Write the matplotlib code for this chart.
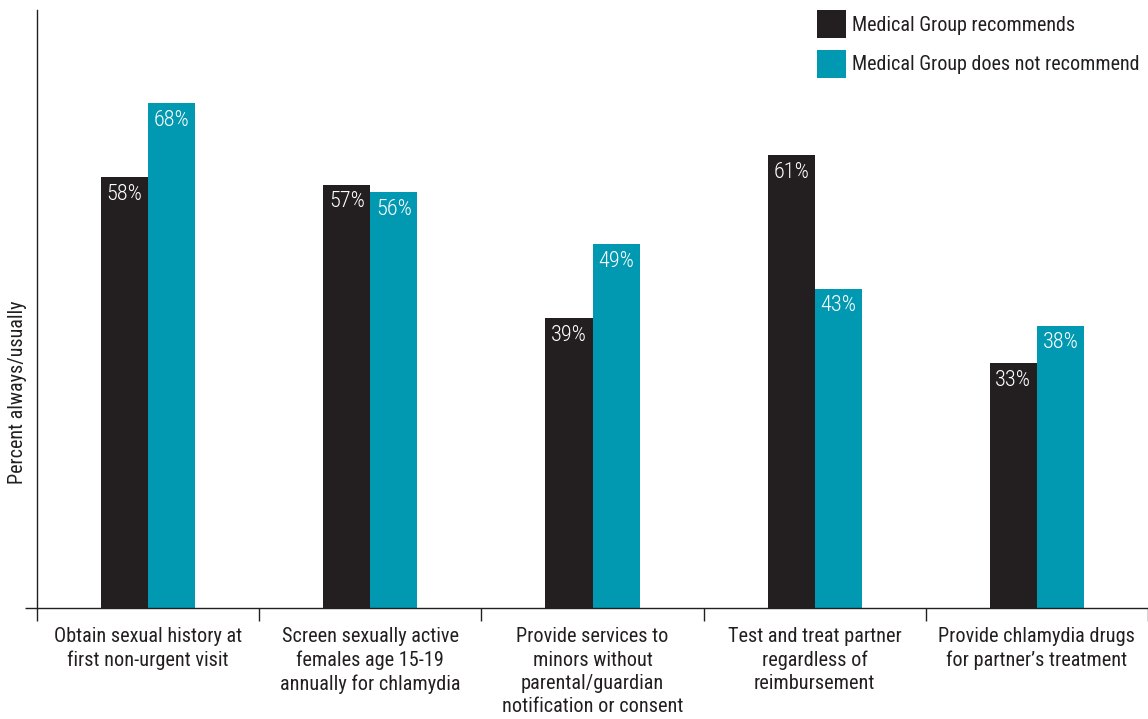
import matplotlib
matplotlib.use("Agg")
import matplotlib.pyplot as plt
from matplotlib import font_manager as fm
import numpy as np

installed = {f.name for f in fm.fontManager.ttflist}
for fam in ["Roboto Condensed", "Archivo Narrow", "PT Sans Narrow", "Liberation Sans Narrow", "DejaVu Sans"]:
    if fam in installed:
        plt.rcParams["font.family"] = [fam, "DejaVu Sans"]
        break

categories = [
    "Obtain sexual history at\nfirst non-urgent visit",
    "Screen sexually active\nfemales age 15-19\nannually for chlamydia",
    "Provide services to\nminors without\nparental/guardian\nnotification or consent",
    "Test and treat partner\nregardless of\nreimbursement",
    "Provide chlamydia drugs\nfor partner\u2019s treatment",
]
recommends = [58, 57, 39, 61, 33]
not_recommend = [68, 56, 49, 43, 38]
series_names = ["Medical Group recommends", "Medical Group does not recommend"]

DARK = "#231f20"
TEAL = "#0099b1"

fig = plt.figure(figsize=(11.48, 7.19), dpi=100)
ax = fig.add_axes([37 / 1148, 111 / 719, 1 - 37 / 1148, 598 / 719])

x = np.arange(len(categories))
w = 0.212
b1 = ax.bar(x - w / 2, recommends, w, color=DARK)
b2 = ax.bar(x + w / 2, not_recommend, w, color=TEAL)

for bars, vals in ((b1, recommends), (b2, not_recommend)):
    for r, v in zip(bars, vals):
        ax.text(r.get_x() + r.get_width() / 2, v - 0.9, f"{v}%", ha="center", va="top",
                color="white", fontsize=16, fontweight="light")

ax.set_xlim(-0.5, len(categories) - 0.5)
ax.set_ylim(0, 80.5)

ax.set_xticks(np.arange(len(categories) + 1) - 0.5)
ax.set_xticklabels([])
ax.set_xticks(x, minor=True)
ax.set_xticklabels(categories, minor=True, fontsize=14.6, color="#231f20", linespacing=1.28)
ax.tick_params(axis="x", which="minor", length=0, pad=14)
ax.tick_params(axis="x", which="major", length=9, width=1, color="#231f20")
ax.set_yticks([0])
ax.set_yticklabels([])
ax.tick_params(axis="y", length=9, width=1, color="#231f20")

for s in ("top", "right"):
    ax.spines[s].set_visible(False)
for s in ("left", "bottom"):
    ax.spines[s].set_color("#231f20")
    ax.spines[s].set_linewidth(1)

ax.set_ylabel("Percent always/usually", fontsize=14.5, color="#231f20")
ax.yaxis.set_label_coords(-10 / 1111, 0.361)

leg = ax.legend([b1, b2], series_names, loc="upper left", bbox_to_anchor=(780 / 1111, 1.0),
                frameon=False, fontsize=14.5, handlelength=1.44, handleheight=1.8,
                handletextpad=0.3, labelspacing=0.55, borderaxespad=0, borderpad=0)
for t in leg.get_texts():
    t.set_color("#231f20")

fig.savefig("out.png", dpi=100)
